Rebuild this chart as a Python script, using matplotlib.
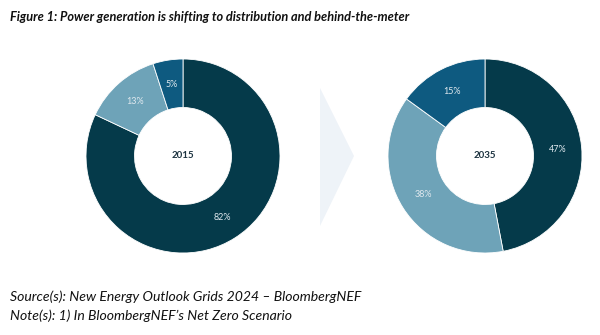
import matplotlib
matplotlib.use("Agg")
import matplotlib.pyplot as plt
from matplotlib.patches import Polygon

years = ["2015", "2035"]
shares_2015 = [82, 13, 5]
shares_2035 = [47, 38, 15]
colors = ["#053a4a", "#6ea3b8", "#0e5a80"]

title = "Figure 1: Power generation is shifting to distribution and behind-the-meter"
source = "Source(s): New Energy Outlook Grids 2024 \u2013 BloombergNEF"
note = "Note(s): 1) In BloombergNEF\u2019s Net Zero Scenario"

W, H = 600, 335
fig = plt.figure(figsize=(6, 3.35), dpi=100)


def donut(cx, cy, r, values, year):
    ax = fig.add_axes([(cx - r) / W, (H - cy - r) / H, 2 * r / W, 2 * r / H])
    wedges, texts, autotexts = ax.pie(
        values, colors=colors, startangle=90, counterclock=False,
        autopct="%d%%", pctdistance=0.75,
        wedgeprops=dict(width=0.5, edgecolor="white", linewidth=0.6),
        textprops=dict(color="#dfe8ee", fontsize=6.5, family="Lato"))
    ax.text(0, 0, year, ha="center", va="center", fontsize=7,
            fontweight="bold", color="#1c3340", family="Lato")
    ax.set_xlim(-1, 1)
    ax.set_ylim(-1, 1)
    ax.set_aspect("equal")
    ax.axis("off")


# faint chevron between the two donuts
arrow = Polygon([(320 / W, 1 - 88 / H), (354 / W, 1 - 156 / H), (320 / W, 1 - 226 / H)],
                closed=True, transform=fig.transFigure, facecolor="#eef3f8",
                edgecolor="none")
fig.patches.append(arrow)

donut(183, 156, 97, shares_2015, years[0])
donut(485, 156, 97, shares_2035, years[1])

fig.text(10 / W, 1 - 17 / H, title, ha="left", va="center", fontsize=9.2,
         style="italic", fontweight="bold", family="Lato", color="#111111")
fig.text(10 / W, 1 - 297 / H, source, ha="left", va="center", fontsize=10.1,
         style="italic", family="Lato", color="#111111")
fig.text(10 / W, 1 - 316 / H, note, ha="left", va="center", fontsize=10.1,
         style="italic", family="Lato", color="#111111")

fig.savefig("out.png", dpi=100)
